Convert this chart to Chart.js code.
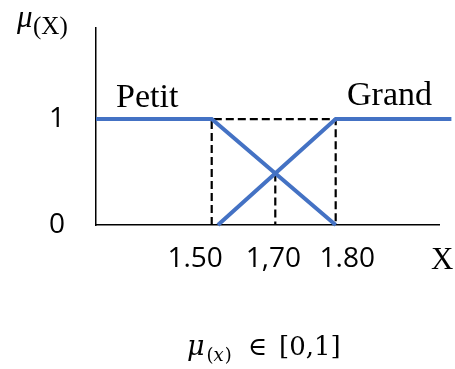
<!DOCTYPE html>
<html>
<head>
<meta charset="utf-8">
<script src="https://cdn.jsdelivr.net/npm/chart.js@4"></script>
<style>
  html, body { margin: 0; padding: 0; background: #fff; }
  #wrap { width: 455px; height: 369px; }
</style>
</head>
<body>
<div id="wrap"><canvas id="fuzzyChart" width="455" height="369"></canvas></div>
<script>
// membership functions (x in metres, mu in [0,1])
const petitX = [1.22, 1.50, 1.80];
const petitMu = [1, 1, 0];
const grandX = [1.515, 1.80, 2.08];
const grandMu = [0, 1, 1];

// axis labels
const tickText = ['1.50', '1,70', '1.80', 'X'];
const tickAt = [1.46, 1.649, 1.828, 2.058];
const muTicks = [0, 1];

const BLUE = '#4472C4';

function pts(xs, ys) {
    return xs.map((x, i) => ({ x: x, y: ys[i] }));
}

// where the falling edge of Petit meets the rising edge of Grand
function crossing() {
    const ax = petitX[1], ay = petitMu[1], bx = petitX[2], by = petitMu[2];
    const cx = grandX[0], cy = grandMu[0], dx = grandX[1], dy = grandMu[1];
    const m1 = (by - ay) / (bx - ax), m2 = (dy - cy) / (dx - cx);
    const x = (cy - ay + m1 * ax - m2 * cx) / (m1 - m2);
    return { x: x, y: ay + m1 * (x - ax) };
}

const cross = crossing();
const dashed = { borderColor: '#000', borderWidth: 2.2, borderDash: [8, 4], pointRadius: 0, showLine: true, clip: false };

// writes a run of [text, font, baselineShift, extraGap] pieces one after another
function run(ctx, x, y, pieces) {
    pieces.forEach(p => {
        ctx.font = p[1];
        ctx.fillText(p[0], x, y + (p[2] || 0));
        x += ctx.measureText(p[0]).width + (p[3] || 0);
    });
}

const labelsPlugin = {
    id: 'fuzzyLabels',
    afterDraw(chart) {
        const ctx = chart.ctx;
        ctx.save();
        ctx.fillStyle = '#000';
        ctx.textBaseline = 'alphabetic';
        ctx.textAlign = 'left';

        ctx.font = '34px "Liberation Serif"';
        ctx.fillText('Petit', 116, 107);
        ctx.fillText('Grand', 347, 105);

        // mu(X) at the top of the vertical axis
        ctx.font = 'italic 31px "Liberation Serif"';
        ctx.fillText('\u03bc', 17, 27);
        ctx.font = '25px "Liberation Serif"';
        ctx.fillText('(X)', 33, 34);

        // mu(x) in [0,1] under the chart
        const sub = '18px "DejaVu Serif"', subI = 'italic 18px "DejaVu Serif"';
        run(ctx, 187, 355, [
            ['\u03bc', 'italic 27px "DejaVu Serif"', 0, 2],
            ['(', sub, 6], ['x', subI, 6, 1], [')', sub, 6, 16],
            ['\u2208', '26px "DejaVu Serif"', 0, 12],
            ['[0,1]', '26px "DejaVu Serif"', 0]
        ]);
        ctx.restore();
    }
};

new Chart(document.getElementById('fuzzyChart').getContext('2d'), {
    type: 'scatter',
    data: {
        datasets: [
            { label: 'Petit', data: pts(petitX, petitMu), borderColor: BLUE, borderWidth: 4, pointRadius: 0, showLine: true, clip: false },
            { label: 'Grand', data: pts(grandX, grandMu), borderColor: BLUE, borderWidth: 4, pointRadius: 0, showLine: true, clip: false },
            Object.assign({ data: [{ x: petitX[1], y: 0 }, { x: petitX[1], y: 1 }, { x: grandX[1], y: 1 }, { x: grandX[1], y: 0 }] }, dashed),
            Object.assign({ data: [{ x: cross.x, y: cross.y }, { x: cross.x, y: 0 }] }, dashed)
        ]
    },
    options: {
        responsive: false,
        animation: false,
        layout: { padding: { top: 28, right: 16, left: 0, bottom: 0 } },
        plugins: { legend: { display: false }, tooltip: { enabled: false } },
        scales: {
            x: {
                type: 'linear', min: 1.22, max: 2.05,
                grid: { display: false },
                border: { display: true, color: '#000', width: 1.5 },
                afterBuildTicks: s => { s.ticks = tickAt.map(v => ({ value: v })); },
                afterFit: s => { s.height = 144; s.paddingLeft = 0; s.paddingRight = 0; },
                ticks: {
                    autoSkip: false, maxRotation: 0, padding: 9, color: '#000',
                    font: c => c.index === 3 ? { family: 'Liberation Serif', size: 31 } : { family: 'Open Sans', size: 28 },
                    callback: (v, i) => tickText[i]
                }
            },
            y: {
                min: 0, max: 1.86,
                grid: { display: false },
                border: { display: true, color: '#000', width: 1.5 },
                afterBuildTicks: s => { s.ticks = muTicks.map(v => ({ value: v })); },
                afterFit: s => { s.width = 96; s.paddingTop = 0; s.paddingBottom = 0; },
                ticks: { padding: 23, color: '#000', font: { family: 'Open Sans', size: 28 }, callback: v => String(v) }
            }
        }
    },
    plugins: [labelsPlugin]
});
</script>
</body>
</html>
